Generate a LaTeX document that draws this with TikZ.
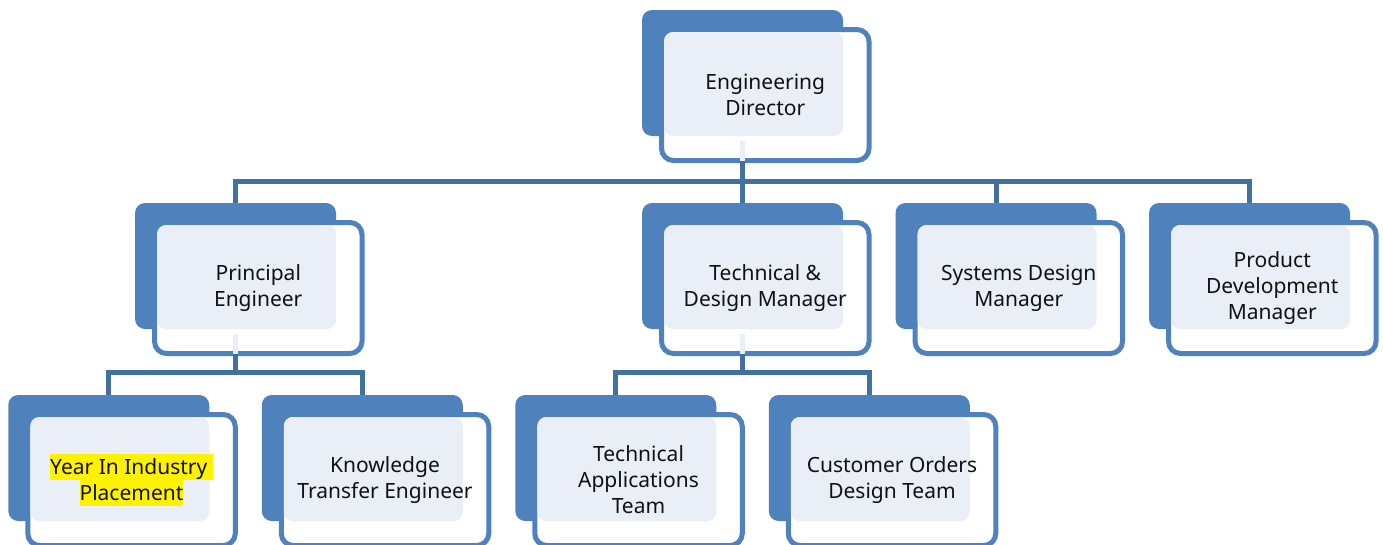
\documentclass[tikz,border=0pt]{standalone}
\usepackage{fontspec}
\setmainfont{Noto Sans}
\usetikzlibrary{calc}
\definecolor{bblue}{HTML}{4F81BD}
\definecolor{lblue}{HTML}{EAEFF7}
\definecolor{cblue}{HTML}{41719C}
\definecolor{txt}{HTML}{111111}
\newcommand\hlt[1]{{\setlength{\fboxsep}{0pt}\colorbox{yellow}{\rule[-6pt]{0pt}{26pt}#1}}}
\tikzset{
  backbox/.style={rectangle, rounded corners=10pt, fill=bblue, draw=none, inner sep=0pt, outer sep=0pt, minimum width=201pt, minimum height=126pt, anchor=north west},
  frontbox/.style={rectangle, rounded corners=12pt, fill=white, draw=bblue, line width=5pt, inner sep=0pt, outer sep=0pt, minimum width=207.5pt, minimum height=131pt, anchor=north west},
  innerbox/.style={rectangle, rounded corners=9pt, fill=lblue, draw=none, inner sep=0pt, outer sep=0pt, minimum width=179pt, minimum height=104pt, anchor=north west},
  label/.style={align=center, text=txt, font=\fontsize{21pt}{26pt}\selectfont, inner sep=0pt},
  conn/.style={draw=cblue, line width=5pt},
  lconn/.style={draw=lblue, line width=5pt}
}
\newcommand\orgunit[4]{%
  \node[backbox] (#1) at (#2,#3) {};
  \node[frontbox] (#1f) at (#2+19.5,#3+19.5) {};
  \node[innerbox] (#1i) at (#2+22,#3+22) {};
  \node[label] (#1t) at (#1f.center) {#4};
}
\begin{document}
\begin{tikzpicture}[x=1pt,y=-1pt]
\useasboundingbox (0,0) rectangle (1383,544);
% level 0
\orgunit{ed}{642}{10}{Engineering\\Director}
% level 1
\orgunit{pe}{135}{203}{Principal\\Engineer}
\orgunit{tdm}{642}{203}{Technical \&\\Design Manager}
\orgunit{sdm}{895.5}{203}{Systems Design\\Manager}
\orgunit{pdm}{1149}{203}{Product\\Development\\Manager}
% level 2
\orgunit{yii}{8.25}{395}{\hlt{Year In Industry }\\\hlt{Placement}}
\orgunit{kte}{261.75}{395}{Knowledge\\Transfer Engineer}
\orgunit{tat}{515.25}{395}{Technical\\Applications\\Team}
\orgunit{cod}{768.75}{395}{Customer Orders\\Design Team}
% bus coordinates
\coordinate (bus1) at (0,181);
\coordinate (bus2) at (0,372.5);
% connectors level 0 -> 1
\draw[lconn] ($(ed.south)+(0,5)$) -- (ed.south |- edf.south);
\draw[conn] (ed.south |- edf.south) -- (ed.south |- bus1) -- (tdm.north);
\draw[conn] (pe.north) -- (pe.north |- bus1) -- (pdm.north |- bus1) -- (pdm.north);
\draw[conn] (sdm.north |- bus1) -- (sdm.north);
% connectors level 1 -> 2
\draw[lconn] ($(pe.south)+(0,5)$) -- (pe.south |- pef.south);
\draw[conn] (pe.south |- pef.south) -- (pe.south |- bus2);
\draw[conn] (yii.north) -- (yii.north |- bus2) -- (kte.north |- bus2) -- (kte.north);
\draw[lconn] ($(tdm.south)+(0,5)$) -- (tdm.south |- tdmf.south);
\draw[conn] (tdm.south |- tdmf.south) -- (tdm.south |- bus2);
\draw[conn] (tat.north) -- (tat.north |- bus2) -- (cod.north |- bus2) -- (cod.north);
\end{tikzpicture}
\end{document}
